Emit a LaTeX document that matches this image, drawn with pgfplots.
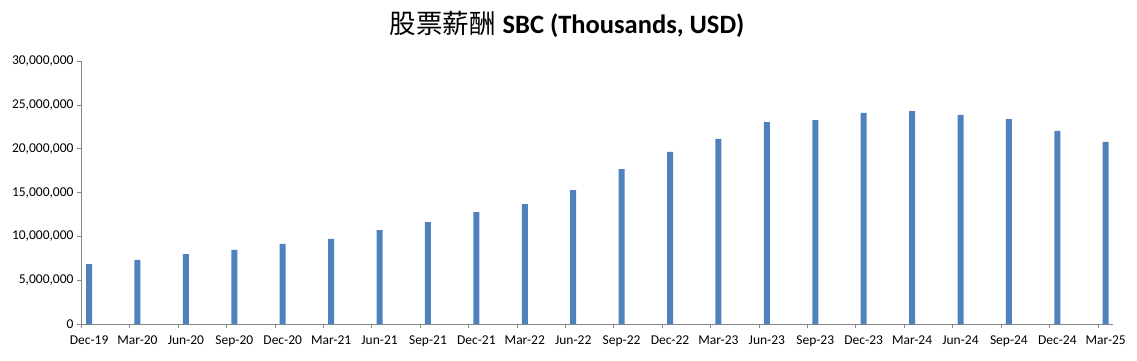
\documentclass[border=0pt]{standalone}
\usepackage{pgfplots}
\pgfplotsset{compat=1.18}
\usepackage{fontspec}
\setmainfont{Carlito}
\newfontfamily\cjk{Noto Sans CJK SC}
\definecolor{barblue}{HTML}{4F81BD}
\definecolor{axisgrey}{HTML}{868686}
\begin{document}
\begin{tikzpicture}
\useasboundingbox (0,0) rectangle (1137bp,361bp);
\begin{axis}[
  at={(81bp,36.7bp)}, anchor=south west,
  scale only axis, width=1032bp, height=263.6bp,
  xmin=-0.167, xmax=21.15, ymin=0, ymax=30000000,
  axis lines=left, axis line style={-, draw=axisgrey},
  ytick={0,5000000,10000000,15000000,20000000,25000000,30000000},
  scaled y ticks=false,
  yticklabel style={/pgf/number format/.cd, fixed, 1000 sep={,}, assume math mode=true},
  ticklabel style={font=\fontsize{13.5bp}{15bp}\selectfont, text=black},
  xticklabel style={yshift=-4bp},
  xtick={0,...,21},
  xticklabels={Dec-19,Mar-20,Jun-20,Sep-20,Dec-20,Mar-21,Jun-21,Sep-21,Dec-21,Mar-22,Jun-22,Sep-22,Dec-22,Mar-23,Jun-23,Sep-23,Dec-23,Mar-24,Jun-24,Sep-24,Dec-24,Mar-25},
  minor xtick={-0.167,0.833,...,20.9},
  major tick length=4bp, minor tick length=4bp, tick align=outside,
  major x tick style={draw=none},
  minor x tick style={draw=axisgrey},
  major y tick style={draw=axisgrey},
]
\addplot[ybar, bar width=6bp, fill=barblue, draw=none] coordinates {
(0,6860000) (1,7320000) (2,8000000) (3,8460000) (4,9140000) (5,9710000)
(6,10730000) (7,11640000) (8,12780000) (9,13690000) (10,15280000) (11,17670000)
(12,19610000) (13,21090000) (14,23020000) (15,23250000) (16,24050000) (17,24270000)
(18,23820000) (19,23360000) (20,22000000) (21,20750000)
};
\end{axis}
\node at (567bp,337bp) {{\cjk\fontsize{26.5bp}{30bp}\selectfont 股票薪酬}\hspace{7bp}{\bfseries\fontsize{26.5bp}{30bp}\selectfont SBC (Thousands, USD)}};
\end{tikzpicture}
\end{document}
